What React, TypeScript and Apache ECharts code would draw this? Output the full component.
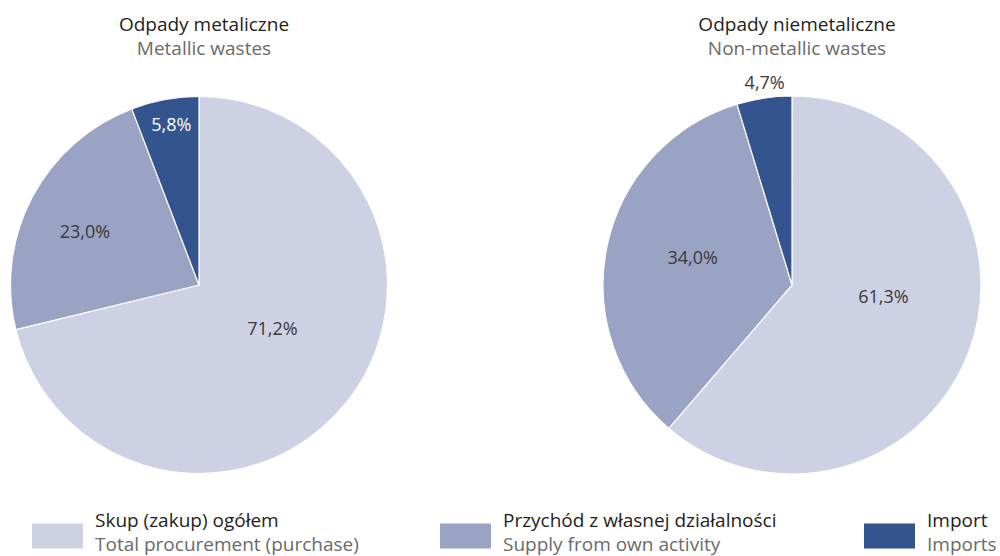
import React, { useEffect, useRef } from "react";
import * as echarts from "echarts";

const categoriesPL = ["Skup (zakup) ogółem", "Przychód z własnej działalności", "Import"];
const categoriesEN = ["Total procurement (purchase)", "Supply from own activity", "Imports"];
const metallicValues = [71.2, 23.0, 5.8];
const nonMetallicValues = [61.3, 34.0, 4.7];
const pieTitles = ["Odpady metaliczne", "Odpady niemetaliczne"];
const pieSubtitles = ["Metallic wastes", "Non-metallic wastes"];
const colors = ["#ced1e4", "#9aa3c4", "#33548e"];

const FONT = "'Open Sans', 'Noto Sans', sans-serif";

const fmt = (v: number) => v.toFixed(1).replace(".", ",") + "%";

export default function App() {
  const ref = useRef<HTMLDivElement>(null);
  useEffect(() => {
    if (!ref.current) return;
    const chart = echarts.init(ref.current, null, { renderer: "svg" });

    const leftOffsets: number[][] = [[-3, -17], [-28, -9], [-10, -65]];
    const rightOffsets: number[][] = [[0, -23], [-4, -8], [-13, -107]];

    const buildData = (vals: number[], offsets: number[][], darkOutside: boolean) =>
      vals.map((v, i) => ({
        name: categoriesPL[i],
        value: v,
        itemStyle: { color: colors[i] },
        label: {
          offset: offsets[i],
          color: i === 2 && !darkOutside ? "#ffffff" : "#3a3a3a",
        },
      }));

    const pieBase = {
      type: "pie",
      radius: 188.5,
      startAngle: 90,
      clockwise: true,
      avoidLabelOverlap: false,
      itemStyle: { borderColor: "#ffffff", borderWidth: 1.2 },
      label: {
        show: true,
        position: "inside",
        fontFamily: FONT,
        fontSize: 18,
        formatter: (p: any) => fmt(p.value),
      },
      labelLine: { show: false },
      emphasis: { disabled: true },
    };

    const legends = categoriesPL.map((name, i) => ({
      data: [name],
      left: [30, 438, 862][i],
      top: 510,
      padding: 0,
      icon: "rect",
      itemWidth: 53,
      itemHeight: 27,
      selectedMode: false,
      itemStyle: { color: colors[i] },
      formatter: (n: string) => `{a|${n}}\n{b|${categoriesEN[categoriesPL.indexOf(n)]}}`,
      textStyle: {
        padding: [0, 0, 9, 6],
        rich: {
          a: { fontFamily: FONT, fontSize: 19, color: "#1e1e1e", lineHeight: 24 },
          b: { fontFamily: FONT, fontSize: 19, color: "#6a6a6a", lineHeight: 24 },
        },
      },
    }));

    chart.setOption({
      animation: false,
      title: [0, 1].map((i) => ({
        text: pieTitles[i],
        subtext: pieSubtitles[i],
        left: [199, 792][i],
        top: 9,
        textAlign: "center",
        itemGap: 5,
        textStyle: { fontFamily: FONT, fontSize: 19, fontWeight: "normal", color: "#1e1e1e" },
        subtextStyle: { fontFamily: FONT, fontSize: 19, color: "#6a6a6a" },
      })),
      legend: legends,
      series: [
        { ...pieBase, name: "metal", center: [199, 285], data: buildData(metallicValues, leftOffsets, false) },
        { ...pieBase, name: "nonmetal", center: [792, 285], radius: 189, data: buildData(nonMetallicValues, rightOffsets, true) },
      ],
    });
    return () => chart.dispose();
  }, []);
  return <div ref={ref} style={{ width: 1000, height: 556, position: "absolute", left: 0, top: 0 }} />;
}
